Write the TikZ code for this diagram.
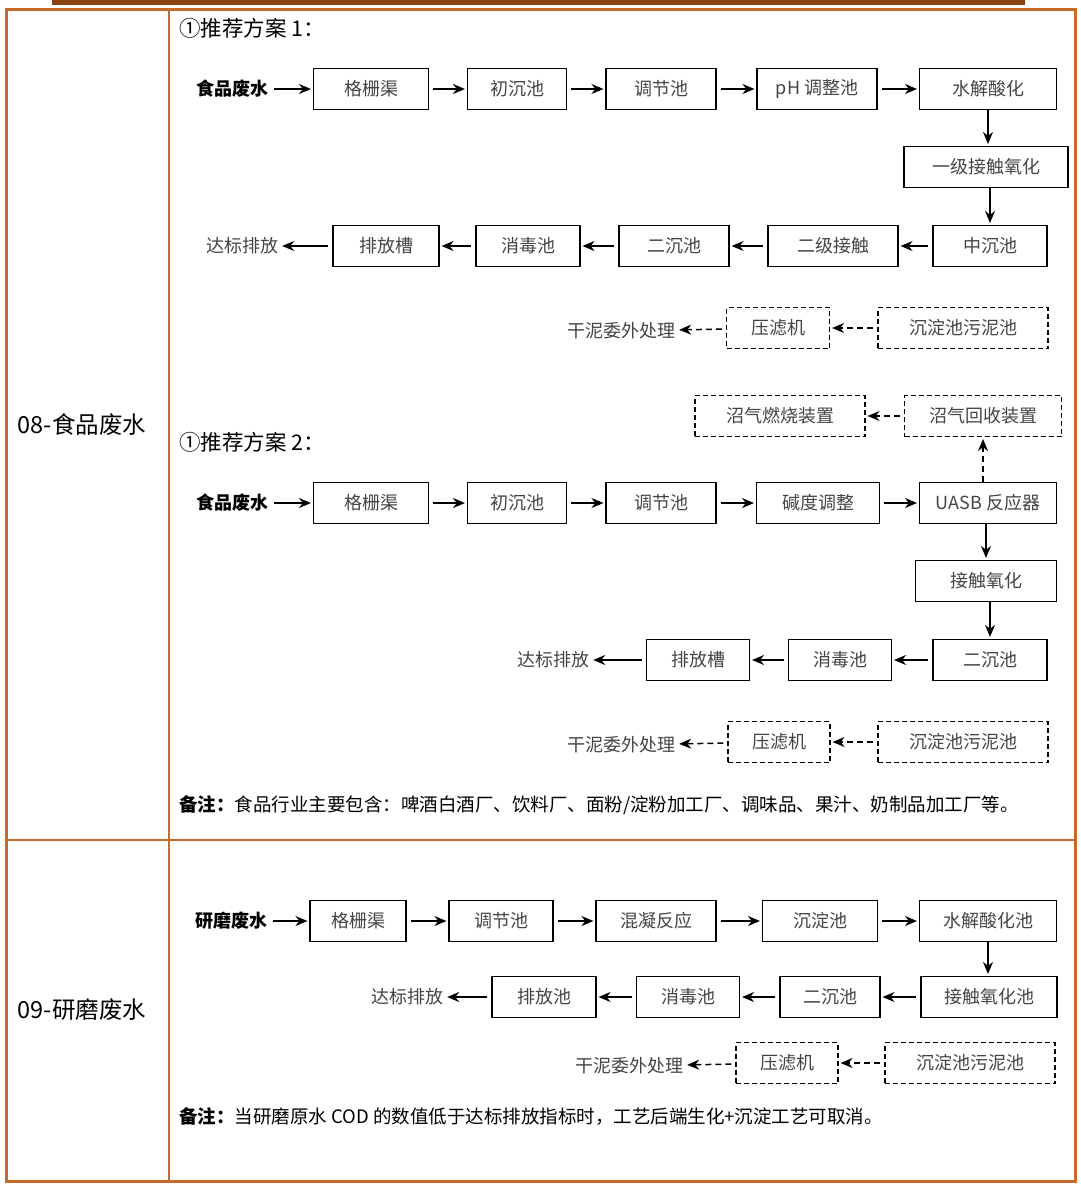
\documentclass[tikz,border=0pt]{standalone}
\usepackage{fontspec}
\setmainfont{Noto Sans CJK SC}
\usetikzlibrary{arrows.meta}
\definecolor{frame}{HTML}{C8692A}
\definecolor{bar}{HTML}{8A4315}
\definecolor{txt}{HTML}{444444}
\begin{document}
\begin{tikzpicture}[x=1pt,y=-1pt,
  bx/.style={draw=black,line width=1.1pt,minimum height=41pt,inner sep=0pt,text=txt,font=\fontsize{18}{20}\selectfont},
  dbx/.style={bx,dashed,dash pattern=on 5pt off 3pt},
  lb/.style={inner sep=2pt,text=txt,font=\fontsize{18}{20}\selectfont},
  src/.style={inner sep=2pt,font=\bfseries\fontsize{18}{20}\selectfont},
  ar/.style={-{Stealth[length=12pt,width=10pt]},line width=1.5pt,shorten >=2pt,shorten <=4pt},
  dar/.style={ar,dashed,dash pattern=on 6pt off 4pt},
  ttl/.style={anchor=west,inner sep=0pt,font=\fontsize{21.5}{24}\selectfont},
  note/.style={anchor=west,inner sep=0pt,font=\fontsize{18.5}{20}\selectfont}]
\useasboundingbox (0,0) rectangle (1080,1186);
\fill[bar] (52,0) rectangle (1025,5);
\draw[frame,line width=3pt] (6,9) rectangle (1075,1181);
\draw[frame,line width=2.5pt] (169,9) -- (169,1181);
\draw[frame,line width=2.5pt] (6,840) -- (1075,840);
\node[font=\fontsize{23.5}{26}\selectfont] (L1) at (82,425) {08-食品废水};
\node[font=\fontsize{23.5}{26}\selectfont] (L2) at (82,1010) {09-研磨废水};
% scheme 1
\node[ttl] (t1) at (179,28) {①推荐方案 1：};
\node[src] (a0) at (232,89) {食品废水};
\node[bx,minimum width=115pt] (a1) at (371,89) {格栅渠};
\node[bx,minimum width=99pt] (a2) at (517,89) {初沉池};
\node[bx,minimum width=110pt] (a3) at (661,89) {调节池};
\node[bx,minimum width=120pt] (a4) at (817,89) {pH 调整池};
\node[bx,minimum width=137pt] (a5) at (988,89) {水解酸化};
\node[bx,minimum width=164pt] (a6) at (986,167) {一级接触氧化};
\node[bx,minimum width=114pt] (a7) at (990,246) {中沉池};
\node[bx,minimum width=130pt] (a8) at (833,246) {二级接触};
\node[bx,minimum width=110pt] (a9) at (674,246) {二沉池};
\node[bx,minimum width=104pt] (a10) at (528,246) {消毒池};
\node[bx,minimum width=106pt] (a11) at (386,246) {排放槽};
\node[lb] (a12) at (242,246) {达标排放};
\node[dbx,minimum width=170pt] (s1) at (963,328) {沉淀池污泥池};
\node[dbx,minimum width=103pt] (s2) at (778,328) {压滤机};
\node[lb] (s3) at (621,331) {干泥委外处理};
\foreach \a/\b in {a0/a1,a1/a2,a2/a3,a3/a4,a4/a5,a7/a8,a8/a9,a9/a10,a10/a11,a11/a12} \draw[ar] (\a) -- (\b);
\draw[ar,shorten <=0pt] (a5.south) -- (a5.south |- a6.north);
\draw[ar,shorten <=0pt] (a6.south -| a7) -- (a7.north);
\draw[dar] (s1) -- (s2); \draw[dar] (s2) -- (s3);
% scheme 2
\node[dbx,minimum width=157pt] (g1) at (983,416) {沼气回收装置};
\node[dbx,minimum width=170pt] (g2) at (780,416) {沼气燃烧装置};
\node[ttl] (t2) at (179,442) {①推荐方案 2：};
\node[src] (b0) at (232,503) {食品废水};
\node[bx,minimum width=115pt] (b1) at (371,503) {格栅渠};
\node[bx,minimum width=99pt] (b2) at (517,503) {初沉池};
\node[bx,minimum width=110pt] (b3) at (661,503) {调节池};
\node[bx,minimum width=123pt] (b4) at (818,503) {碱度调整};
\node[bx,minimum width=137pt] (b5) at (988,503) {UASB 反应器};
\node[bx,minimum width=141pt] (b6) at (986,581) {接触氧化};
\node[bx,minimum width=114pt] (b7) at (990,660) {二沉池};
\node[bx,minimum width=103pt] (b8) at (840,660) {消毒池};
\node[bx,minimum width=103pt] (b9) at (698,660) {排放槽};
\node[lb] (b10) at (553,660) {达标排放};
\node[dbx,minimum width=170pt] (r1) at (963,742) {沉淀池污泥池};
\node[dbx,minimum width=102pt] (r2) at (779,742) {压滤机};
\node[lb] (r3) at (621,745) {干泥委外处理};
\foreach \a/\b in {b0/b1,b1/b2,b2/b3,b3/b4,b4/b5,b7/b8,b8/b9,b9/b10} \draw[ar] (\a) -- (\b);
\draw[ar,shorten <=0pt] (b5.south -| b6) -- (b6.north);
\draw[ar,shorten <=0pt] (b6.south -| b7) -- (b7.north);
\draw[dar] (r1) -- (r2); \draw[dar] (r2) -- (r3);
\draw[dar,shorten <=0pt] (b5.north -| g1) -- (g1); \draw[dar] (g1) -- (g2);
\node[note] (n1) at (179,805) {\textbf{备注：}食品行业主要包含：啤酒白酒厂、饮料厂、面粉/淀粉加工厂、调味品、果汁、奶制品加工厂等。};
% 09
\node[src] (c0) at (231,921) {研磨废水};
\node[bx,minimum width=96pt] (c1) at (358,921) {格栅渠};
\node[bx,minimum width=104pt] (c2) at (501,921) {调节池};
\node[bx,minimum width=120pt] (c3) at (656,921) {混凝反应};
\node[bx,minimum width=115pt] (c4) at (820,921) {沉淀池};
\node[bx,minimum width=137pt] (c5) at (988,921) {水解酸化池};
\node[bx,minimum width=136pt] (c6) at (989,997) {接触氧化池};
\node[bx,minimum width=100pt] (c7) at (830,997) {二沉池};
\node[bx,minimum width=103pt] (c8) at (688,997) {消毒池};
\node[bx,minimum width=104pt] (c9) at (544,997) {排放池};
\node[lb] (c10) at (407,997) {达标排放};
\node[dbx,minimum width=170pt] (u1) at (970,1063) {沉淀池污泥池};
\node[dbx,minimum width=102pt] (u2) at (787,1063) {压滤机};
\node[lb] (u3) at (629,1066) {干泥委外处理};
\foreach \a/\b in {c0/c1,c1/c2,c2/c3,c3/c4,c4/c5,c6/c7,c7/c8,c8/c9,c9/c10} \draw[ar] (\a) -- (\b);
\draw[ar,shorten <=0pt] (c5.south) -- (c5.south |- c6.north);
\draw[dar] (u1) -- (u2); \draw[dar] (u2) -- (u3);
\node[note] (n2) at (179,1117) {\textbf{备注：}当研磨原水 COD 的数值低于达标排放指标时，工艺后端生化+沉淀工艺可取消。};
\end{tikzpicture}
\end{document}
